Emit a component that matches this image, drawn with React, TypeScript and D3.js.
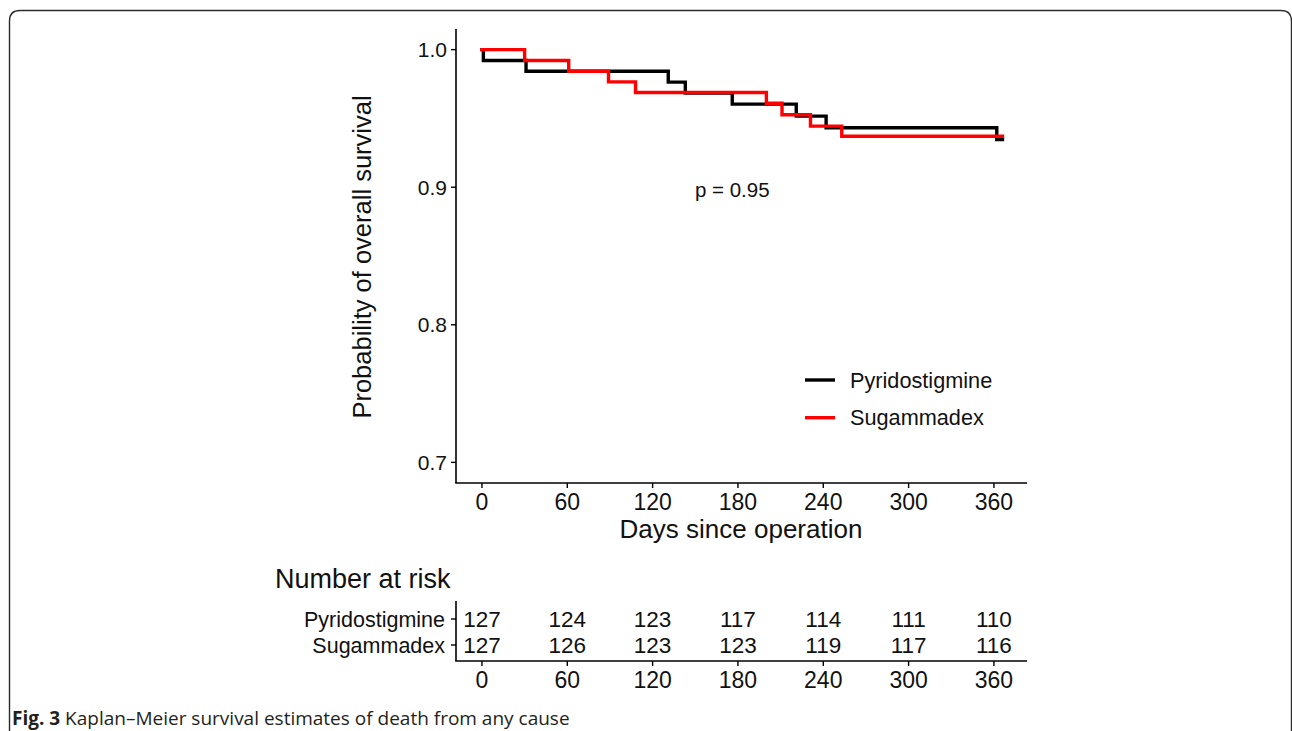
import React from "react";
import * as d3 from "d3";

// ---- Data ----
const pyrTimes = [0, 1, 31, 131, 143, 176, 221, 242, 362, 366];
const pyrSurv = [1.0, 0.9921, 0.9843, 0.9764, 0.9685, 0.9604, 0.9517, 0.9432, 0.9347, 0.9347];
const sugTimes = [0, 30, 61, 89, 108, 200, 211, 231, 253, 366];
const sugSurv = [1.0, 0.9921, 0.9843, 0.9766, 0.9688, 0.9610, 0.9527, 0.9444, 0.9370, 0.9370];

const groups = ["Pyridostigmine", "Sugammadex"];
const groupColors = ["#000000", "#ff0000"];
const xTicks = [0, 60, 120, 180, 240, 300, 360];
const yTicks = [0.7, 0.8, 0.9, 1.0];
const riskPyr = [127, 124, 123, 117, 114, 111, 110];
const riskSug = [127, 126, 123, 123, 119, 117, 116];
const pValueText = "p = 0.95";
const pValueAt = [176, 0.893];

const W = 1292;
const H = 731;
const FONT = "'Liberation Sans', Arial, Helvetica, sans-serif";
const INK = "#111";

export default function App() {
  const x = d3.scaleLinear().domain([-18.25, 383.25]).range([456, 1027]);
  const y = d3.scaleLinear().domain([0.685, 1.015]).range([483, 29]);

  const line = d3
    .line<[number, number]>()
    .x((d) => x(d[0]))
    .y((d) => y(d[1]))
    .curve(d3.curveStepAfter);

  const series = [
    pyrTimes.map((t, i) => [t, pyrSurv[i]] as [number, number]),
    sugTimes.map((t, i) => [t, sugSurv[i]] as [number, number]),
  ];
  const risk = [riskPyr, riskSug];

  const riskRowY = d3.scaleBand<string>().domain(groups).range([606, 658]);
  const rowCenter = (g: string) => (riskRowY(g) as number) + riskRowY.bandwidth() / 2;

  return (
    <svg
      width={W}
      height={H}
      viewBox={`0 0 ${W} ${H}`}
      style={{ position: "absolute", left: 0, top: 0, background: "#fff" }}
      fontFamily={FONT}
    >
      <rect x={0} y={0} width={W} height={H} fill="#fff" />
      {/* frame */}
      <path
        d={`M 9.5 ${H + 20} L 9.5 21 Q 9.5 10.5 20 10.5 L 1281 10.5 Q 1291.5 10.5 1291.5 21 L 1291.5 ${H + 20}`}
        fill="none"
        stroke="#2b2b2b"
        strokeWidth={1.4}
      />

      {/* curves */}
      {series.map((s, i) => (
        <path
          key={i}
          d={line(s) as string}
          fill="none"
          stroke={groupColors[i]}
          strokeWidth={3.4}
          strokeLinejoin="miter"
          strokeLinecap="square"
        />
      ))}

      {/* axes */}
      <line x1={456} x2={456} y1={29} y2={483} stroke="#000" strokeWidth={1.6} />
      <line x1={455.2} x2={1027} y1={483} y2={483} stroke="#000" strokeWidth={1.6} />
      {yTicks.map((t) => (
        <g key={t}>
          <line x1={451} x2={456} y1={y(t)} y2={y(t)} stroke="#000" strokeWidth={1.4} />
          <text x={447} y={y(t) + 7.5} textAnchor="end" fontSize={21} fill={INK}>
            {t.toFixed(1)}
          </text>
        </g>
      ))}
      {xTicks.map((t) => (
        <g key={t}>
          <line x1={x(t)} x2={x(t)} y1={483} y2={488} stroke="#000" strokeWidth={1.4} />
          <text x={x(t)} y={510} textAnchor="middle" fontSize={23} fill={INK}>
            {t}
          </text>
        </g>
      ))}
      <text x={741} y={538} textAnchor="middle" fontSize={26} fill={INK}>
        Days since operation
      </text>
      <text
        transform={`translate(371, 257) rotate(-90)`}
        textAnchor="middle"
        fontSize={25.5}
        fill={INK}
      >
        Probability of overall survival
      </text>

      {/* p-value */}
      <text x={x(pValueAt[0])} y={y(pValueAt[1])} textAnchor="middle" fontSize={20.5} fill={INK}>
        {pValueText}
      </text>

      {/* legend */}
      {groups.map((g, i) => (
        <g key={g}>
          <line
            x1={805}
            x2={835}
            y1={380 + i * 37.7}
            y2={380 + i * 37.7}
            stroke={groupColors[i]}
            strokeWidth={3.4}
          />
          <text x={850} y={387.5 + i * 37.7} fontSize={21.7} fill={INK}>
            {g}
          </text>
        </g>
      ))}

      {/* risk table */}
      <text x={275} y={588} fontSize={27} fill={INK}>
        Number at risk
      </text>
      <line x1={456} x2={456} y1={601} y2={661} stroke="#000" strokeWidth={1.6} />
      <line x1={455.2} x2={1027} y1={661} y2={661} stroke="#000" strokeWidth={1.6} />
      {groups.map((g, gi) => (
        <g key={g}>
          <line x1={451} x2={456} y1={rowCenter(g)} y2={rowCenter(g)} stroke="#000" strokeWidth={1.4} />
          <text x={445} y={rowCenter(g) + 7.5} textAnchor="end" fontSize={21.5} fill={INK}>
            {g}
          </text>
          {risk[gi].map((v, ti) => (
            <text
              key={ti}
              x={x(xTicks[ti])}
              y={rowCenter(g) + 8}
              textAnchor="middle"
              fontSize={22.5}
              fill={INK}
            >
              {v}
            </text>
          ))}
        </g>
      ))}
      {xTicks.map((t) => (
        <g key={t}>
          <line x1={x(t)} x2={x(t)} y1={661} y2={666} stroke="#000" strokeWidth={1.4} />
          <text x={x(t)} y={688} textAnchor="middle" fontSize={23} fill={INK}>
            {t}
          </text>
        </g>
      ))}

      {/* caption */}
      <text x={12} y={725} fontSize={19} fill="#231f20" fontFamily="'Open Sans', 'Noto Sans', sans-serif">
        <tspan fontWeight={700}>Fig. 3</tspan>
        <tspan> Kaplan–Meier survival estimates of death from any cause</tspan>
      </text>
    </svg>
  );
}
